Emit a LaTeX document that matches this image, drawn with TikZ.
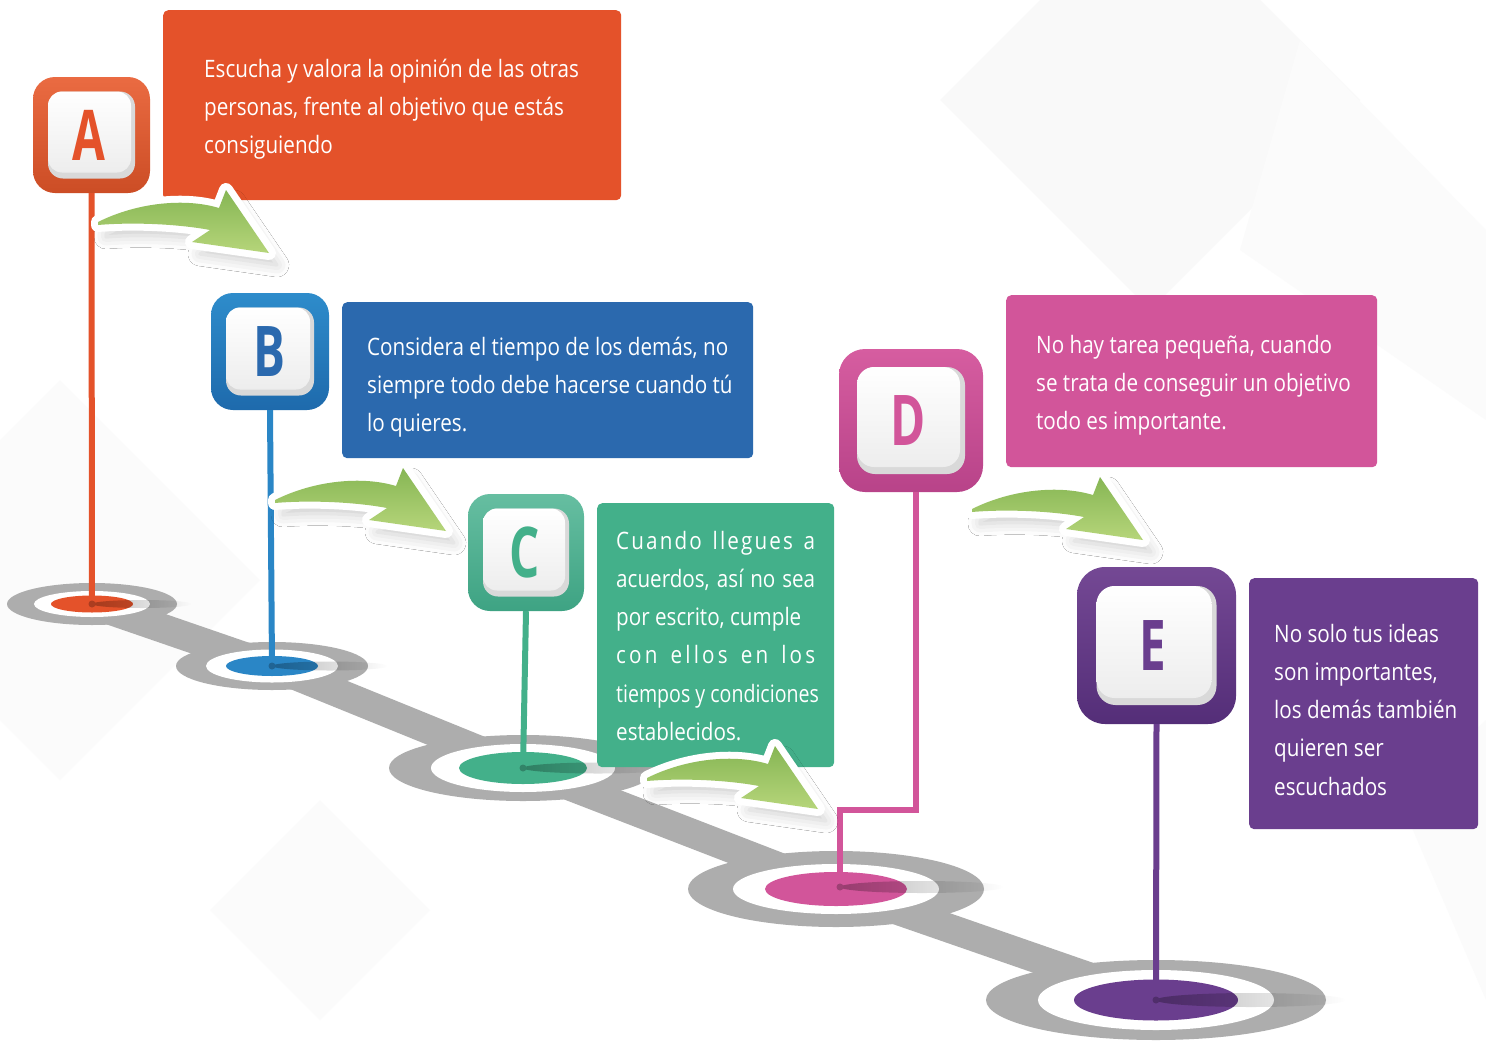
\documentclass[tikz,border=0pt]{standalone}
\usepackage{fontspec}
\setmainfont{Open Sans}[FakeStretch=0.86]
\newfontfamily\letterfont{Open Sans}[FakeStretch=0.68]
\usetikzlibrary{shadows.blur,fadings}
\definecolor{cA}{HTML}{E4522A}\definecolor{cAt}{HTML}{EA6B42}\definecolor{cAb}{HTML}{CC4D25}
\definecolor{cB}{HTML}{2B69AE}\definecolor{cBs}{HTML}{2A86C6}\definecolor{cBt}{HTML}{2E8CCB}\definecolor{cBb}{HTML}{1E6AAC}
\definecolor{cC}{HTML}{43B08A}\definecolor{cCt}{HTML}{66BEA1}\definecolor{cCb}{HTML}{3EA383}
\definecolor{cD}{HTML}{D2559A}\definecolor{cDt}{HTML}{D65DA0}\definecolor{cDb}{HTML}{B84389}
\definecolor{cE}{HTML}{6A3E8E}\definecolor{cEt}{HTML}{744894}\definecolor{cEb}{HTML}{542E78}
\definecolor{road}{HTML}{ADADAD}
\definecolor{grT}{HTML}{86B654}\definecolor{grB}{HTML}{B6D57A}
\definecolor{bgd}{HTML}{F9F9F9}
\tikzfading[name=fadeR, left color=transparent!0, right color=transparent!100]
\newcommand\lsp{\hspace{0pt plus 1fil}}
\newcommand\wsp{\hspace{0.25em plus 2.2fil}}
\tikzset{
  garrow/.pic={
    \path[fill=white, blur shadow={shadow xshift=8pt, shadow yshift=-12pt, shadow blur radius=12pt, shadow opacity=20}]
      (0,0) .. controls (40,-20) and (88,-24) .. (121,-14) -- (128,-32) -- (171,31) -- (94,20) -- (112,8) .. controls (80,2) and (35,0) .. (0,3) -- cycle;
    \draw[white, line width=14pt, line join=round]
      (0,0) .. controls (40,-20) and (88,-24) .. (121,-14) -- (128,-32) -- (171,31) -- (94,20) -- (112,8) .. controls (80,2) and (35,0) .. (0,3) -- cycle;
    \shade[top color=grT, bottom color=grB]
      (0,0) .. controls (40,-20) and (88,-24) .. (121,-14) -- (128,-32) -- (171,31) -- (94,20) -- (112,8) .. controls (80,2) and (35,0) .. (0,3) -- cycle;
  }
}
\begin{document}
\begin{tikzpicture}[x=1pt,y=-1pt,
  txtbox/.style={rounded corners=5pt, inner sep=0pt, anchor=north west},
  para/.style={anchor=base west, align=left, inner sep=0pt, text=white, font=\fontsize{24}{38.3}\selectfont},
  letter/.style={font=\letterfont\bfseries\fontsize{70}{70}\selectfont, inner sep=0pt},
  outerbox/.style={inner sep=0pt, shading angle=35},
  innergray/.style={inner sep=0pt, fill=gray!30},
  innerwhite/.style={inner sep=0pt, top color=white, bottom color=white!93!black},
  stem/.style={line width=6pt},
  shadowband/.style={fill=black, opacity=0.28, path fading=fadeR},
]
\useasboundingbox (0,0) rectangle (1486,1044);
\fill[white] (0,0) rectangle (1486,1044);
% faint background diamonds
\fill[bgd] (1150,-110) -- (1360,100) -- (1150,310) -- (940,100) -- cycle;
\fill[bgd!60!white] (1300,40) -- (1486,230) -- (1486,420) -- (1240,250) -- cycle;
\fill[bgd!70!white] (60,380) -- (260,580) -- (60,780) -- (-140,580) -- cycle;
\fill[bgd!70!white] (320,800) -- (430,910) -- (320,1020) -- (210,910) -- cycle;
\fill[bgd!70!white] (1400,800) -- (1486,720) -- (1486,1000) -- cycle;

% disk centres
\coordinate (dA) at (92,604);
\coordinate (dB) at (272,666);
\coordinate (dC) at (523,768);
\coordinate (dD) at (836,889);
\coordinate (dE) at (1156,1000);
\coordinate (dDs) at (840,887);

% road
\draw[road, line width=29pt] (dA) -- (dB) -- (dC) -- (dD) -- (dE);

% disks
\fill[road] (dA) ellipse [x radius=85, y radius=21];
\fill[road] (dB) ellipse [x radius=96, y radius=24];
\fill[road] (dC) ellipse [x radius=134, y radius=33];
\fill[road] (dD) ellipse [x radius=148, y radius=38];
\fill[road] (dE) ellipse [x radius=170, y radius=40];
\fill[white] (dA) ellipse [x radius=58, y radius=13];
\fill[white] (dB) ellipse [x radius=66, y radius=16.5];
\fill[white] (dC) ellipse [x radius=92, y radius=24];
\fill[white] (dD) ellipse [x radius=103, y radius=25];
\fill[white] (dE) ellipse [x radius=118, y radius=30];
\fill[cA] (dA) ellipse [x radius=41, y radius=8.5];
\fill[cBs] (dB) ellipse [x radius=46, y radius=10];
\fill[cC] (dC) ellipse [x radius=64, y radius=16];
\fill[cD] (dD) ellipse [x radius=71, y radius=17];
\fill[cE] (dE) ellipse [x radius=82, y radius=20.5];
% soft shadow bands
\fill[shadowband] ([xshift=50pt]dA) ellipse [x radius=50, y radius=4];
\fill[shadowband] ([xshift=58pt]dB) ellipse [x radius=58, y radius=4.5];
\fill[shadowband] ([xshift=75pt]dC) ellipse [x radius=75, y radius=5.5];
\fill[shadowband] ([xshift=82pt]dDs) ellipse [x radius=82, y radius=6];
\fill[shadowband] ([xshift=95pt]dE) ellipse [x radius=95, y radius=7];

% text boxes
\node[txtbox, fill=cA, minimum width=458pt, minimum height=190pt] (tbA) at (163,10) {};
\node[txtbox, fill=cB, minimum width=411pt, minimum height=156pt] (tbB) at (342,302) {};
\node[txtbox, fill=cC, minimum width=237pt, minimum height=264pt] (tbC) at (597,503) {};
\node[txtbox, fill=cD, minimum width=371pt, minimum height=172pt] (tbD) at (1006,295) {};
\node[txtbox, fill=cE, minimum width=229pt, minimum height=251pt] (tbE) at (1249,578) {};

% (anchor base = baseline of the last line)
\node[para] (pA) at (204,153.6) {Escucha y valora la opinión de las otras\\personas, frente al objetivo que estás\\consiguiendo};
\node[para] (pB) at (367,431.6) {Considera el tiempo de los demás, no\\siempre todo debe hacerse cuando tú\\lo quieres.};
\node[para] (pC) at (616,740.5) {\makebox[199pt][s]{C\lsp u\lsp a\lsp n\lsp d\lsp o\wsp l\lsp l\lsp e\lsp g\lsp u\lsp e\lsp s\wsp a}\\
  \makebox[199pt][s]{acuerdos, así no sea}\\
  por escrito, cumple\\
  \makebox[199pt][s]{c\lsp o\lsp n\wsp e\lsp l\lsp l\lsp o\lsp s\wsp e\lsp n\wsp l\lsp o\lsp s}\\
  \makebox[199pt][l]{\scalebox{0.948}[1]{tiempos y condiciones}}\\
  establecidos.};
\node[para] (pD) at (1036,429.6) {No hay tarea pequeña, cuando\\se trata de conseguir un objetivo\\todo es importante.};
\node[para] (pE) at (1274,795.2) {No solo tus ideas\\son importantes,\\los demás también\\quieren ser\\escuchados};

% letter boxes
\node[outerbox, rounded corners=22pt, minimum width=117pt, minimum height=116pt, top color=cAt, bottom color=cAb] (boxA) at (91.5,135) {};
\node[outerbox, rounded corners=22pt, minimum width=118pt, minimum height=117pt, top color=cBt, bottom color=cBb] (boxB) at (270,351.5) {};
\node[outerbox, rounded corners=22pt, minimum width=116pt, minimum height=117pt, top color=cCt, bottom color=cCb] (boxC) at (526,552.5) {};
\node[outerbox, rounded corners=26pt, minimum width=144pt, minimum height=143pt, top color=cDt, bottom color=cDb] (boxD) at (911,420.5) {};
\node[outerbox, rounded corners=28pt, minimum width=159pt, minimum height=157pt, top color=cEt, bottom color=cEb] (boxE) at (1156.5,645.5) {};

% stems
\draw[stem, cA] (boxA.south) -- (dA);
\draw[stem, cBs] (boxB.south) -- (dB);
\draw[stem, cC] (boxC.south) -- (dC);
\draw[stem, cD] ([xshift=5pt]boxD.south) -- ++(0,318) -| (dDs);
\draw[stem, cE] (boxE.south) -- (dE);
\fill[cA!75!black] (dA) circle (3.5);
\fill[cBs!75!black] (dB) circle (3.5);
\fill[cC!75!black] (dC) circle (3.5);
\fill[cD!75!black] (dDs) circle (3.5);
\fill[cE!75!black] (dE) circle (3.5);

\node[innergray, rounded corners=15pt, minimum width=87pt, minimum height=87pt] (igA) at (boxA.center) {};
\node[innerwhite, rounded corners=14pt, minimum width=83pt, minimum height=81pt] (iwA) at ([xshift=-2pt,yshift=3pt]boxA.center) {};
\node[innergray, rounded corners=15pt, minimum width=88pt, minimum height=88pt] (igB) at (boxB.center) {};
\node[innerwhite, rounded corners=14pt, minimum width=84pt, minimum height=82pt] (iwB) at ([xshift=-2pt,yshift=3pt]boxB.center) {};
\node[innergray, rounded corners=15pt, minimum width=86pt, minimum height=88pt] (igC) at (boxC.center) {};
\node[innerwhite, rounded corners=14pt, minimum width=82pt, minimum height=82pt] (iwC) at ([xshift=-2pt,yshift=3pt]boxC.center) {};
\node[innergray, rounded corners=18pt, minimum width=108pt, minimum height=107pt] (igD) at (boxD.center) {};
\node[innerwhite, rounded corners=17pt, minimum width=103pt, minimum height=100pt] (iwD) at ([xshift=-2.5pt,yshift=3.5pt]boxD.center) {};
\node[innergray, rounded corners=19pt, minimum width=120pt, minimum height=119pt] (igE) at (boxE.center) {};
\node[innerwhite, rounded corners=18pt, minimum width=115pt, minimum height=112pt] (iwE) at ([xshift=-2.5pt,yshift=3.5pt]boxE.center) {};

\node[letter, text=cA] (lA) at ([xshift=-3pt]boxA.center) {A};
\node[letter, text=cB] (lB) at ([xshift=-1pt]boxB.center) {B};
\node[letter, text=cC] (lC) at ([xshift=-1pt]boxC.center) {C};
\node[letter, text=cD] (lD) at ([xshift=-3pt]boxD.center) {D};
\node[letter, text=cE] (lE) at ([xshift=-4pt]boxE.center) {E};

% green arrows
\pic (gAB) at (98,222) {garrow};
\pic (gBC) at (275,500) {garrow};
\pic (gCD) at (647,778) {garrow};
\pic (gDE) at (972,509) {garrow};
\end{tikzpicture}
\end{document}
